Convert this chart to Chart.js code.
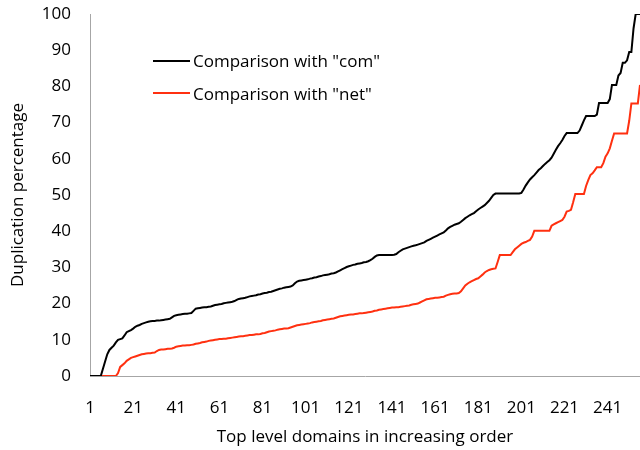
<!DOCTYPE html>
<html>
<head>
<meta charset="utf-8">
<script src="https://cdn.jsdelivr.net/npm/chart.js@4.4.0/dist/chart.umd.min.js"></script>
<style>
  html, body { margin: 0; padding: 0; background: #fff; }
  #wrap { position: relative; width: 640px; height: 450px; }
  #legend { position: absolute; left: 153px; top: 48px; font: 17px "Open Sans", sans-serif; color: #000; }
  .item { position: relative; height: 32.6px; line-height: 25px; padding-left: 40px; white-space: nowrap; }
  .swatch { position: absolute; left: 0; top: 11.5px; width: 37px; height: 2px; }
</style>
</head>
<body>
<div id="wrap">
  <canvas id="chart" width="640" height="450"></canvas>
  <div id="legend">
    <div class="item"><span class="swatch" style="background:#000"></span>Comparison with "com"</div>
    <div class="item"><span class="swatch" style="background:#ff3010"></span>Comparison with "net"</div>
  </div>
</div>
<script>
// Tick labels shown under the x axis
const tickLabels = ['1', '21', '41', '61', '81', '101', '121', '141', '161', '181', '201', '221', '241'];
const yTicks = [0, 10, 20, 30, 40, 50, 60, 70, 80, 90, 100];

// Duplication percentage vs "com", one value per top level domain (sorted)
const comValues = [
  0, 0, 0, 0, 0, 0, 2, 4, 6, 7.2,
  7.8, 8.4, 9.3, 10.0, 10.2, 10.4, 11.2, 12.1, 12.4, 12.7,
  13.1, 13.6, 13.9, 14.1, 14.4, 14.6, 14.8, 15.0, 15.1, 15.2,
  15.2, 15.3, 15.3, 15.4, 15.5, 15.6, 15.7, 15.8, 16.2, 16.6,
  16.8, 16.9, 17.0, 17.1, 17.2, 17.2, 17.3, 17.4, 18.0, 18.6,
  18.7, 18.8, 18.9, 19.0, 19.0, 19.1, 19.2, 19.4, 19.6, 19.7,
  19.8, 19.9, 20.1, 20.2, 20.3, 20.4, 20.5, 20.7, 21.0, 21.3,
  21.4, 21.5, 21.6, 21.8, 22.0, 22.1, 22.2, 22.3, 22.5, 22.6,
  22.8, 22.9, 23.0, 23.2, 23.3, 23.5, 23.7, 23.9, 24.1, 24.2,
  24.4, 24.5, 24.6, 24.7, 25.0, 25.6, 26.1, 26.3, 26.4, 26.5,
  26.6, 26.7, 26.9, 27.0, 27.2, 27.3, 27.5, 27.6, 27.8, 27.9,
  28.0, 28.1, 28.3, 28.4, 28.6, 28.9, 29.2, 29.5, 29.8, 30.1,
  30.3, 30.5, 30.7, 30.8, 31.0, 31.1, 31.2, 31.4, 31.5, 31.7,
  32.0, 32.4, 32.9, 33.3, 33.4, 33.4, 33.4, 33.4, 33.4, 33.4,
  33.4, 33.5, 33.7, 34.2, 34.6, 35.0, 35.2, 35.4, 35.6, 35.8,
  36.0, 36.1, 36.3, 36.5, 36.7, 36.9, 37.3, 37.6, 37.9, 38.2,
  38.5, 38.8, 39.1, 39.4, 39.7, 40.2, 40.8, 41.2, 41.5, 41.8,
  42.0, 42.2, 42.6, 43.1, 43.6, 44.0, 44.4, 44.7, 45.0, 45.5,
  46.0, 46.4, 46.8, 47.2, 47.8, 48.4, 49.2, 50.0, 50.4, 50.4,
  50.4, 50.4, 50.4, 50.4, 50.4, 50.4, 50.4, 50.4, 50.4, 50.4,
  50.6, 51.5, 52.6, 53.5, 54.3, 54.9, 55.5, 56.2, 56.9, 57.4,
  58.0, 58.6, 59.1, 59.6, 60.3, 61.4, 62.5, 63.5, 64.3, 65.2,
  66.3, 67.1, 67.1, 67.1, 67.1, 67.1, 67.1, 67.8, 69.2, 70.6,
  71.8, 71.8, 71.8, 71.8, 71.8, 72.2, 75.4, 75.4, 75.4, 75.4,
  75.4, 76.5, 80.4, 80.4, 80.4, 83.0, 83.7, 86.5, 86.5, 87.2,
  89.5, 89.5, 96, 100, 100, 100
];

// Duplication percentage vs "net"
const netValues = [
  0, 0, 0, 0, 0, 0, 0, 0, 0, 0,
  0, 0, 0, 0.8, 2.5, 3.0, 3.5, 4.2, 4.6, 5.0,
  5.2, 5.4, 5.6, 5.8, 6.0, 6.1, 6.2, 6.3, 6.3, 6.4,
  6.5, 6.9, 7.2, 7.3, 7.3, 7.4, 7.5, 7.5, 7.6, 7.8,
  8.1, 8.2, 8.3, 8.4, 8.4, 8.5, 8.5, 8.6, 8.7, 8.9,
  9.0, 9.1, 9.3, 9.4, 9.5, 9.7, 9.8, 9.9, 10.0, 10.1,
  10.2, 10.2, 10.3, 10.3, 10.4, 10.5, 10.6, 10.7, 10.8, 10.9,
  11.0, 11.0, 11.1, 11.2, 11.3, 11.3, 11.4, 11.5, 11.5, 11.6,
  11.8, 11.9, 12.1, 12.3, 12.4, 12.5, 12.6, 12.8, 12.9, 13.0,
  13.1, 13.1, 13.2, 13.4, 13.6, 13.8, 14.0, 14.1, 14.2, 14.3,
  14.4, 14.5, 14.6, 14.8, 14.9, 15.0, 15.1, 15.2, 15.4, 15.5,
  15.6, 15.7, 15.8, 15.9, 16.1, 16.3, 16.5, 16.6, 16.7, 16.8,
  16.9, 17.0, 17.0, 17.1, 17.2, 17.3, 17.3, 17.4, 17.5, 17.6,
  17.7, 17.8, 18.0, 18.1, 18.3, 18.4, 18.5, 18.6, 18.7, 18.8,
  18.9, 18.9, 19.0, 19.0, 19.1, 19.2, 19.3, 19.4, 19.5, 19.7,
  19.8, 19.9, 20.0, 20.3, 20.6, 20.9, 21.2, 21.3, 21.4, 21.5,
  21.6, 21.6, 21.7, 21.8, 21.9, 22.2, 22.4, 22.6, 22.7, 22.8,
  22.8, 22.9, 23.4, 24.2, 25.0, 25.5, 25.9, 26.2, 26.5, 26.8,
  27.0, 27.5, 28.0, 28.6, 29.0, 29.3, 29.5, 29.6, 29.7, 31.5,
  33.4, 33.4, 33.4, 33.4, 33.4, 33.4, 34.2, 35.0, 35.5, 36.0,
  36.5, 36.8, 37.0, 37.3, 37.6, 38.5, 40.1, 40.1, 40.1, 40.1,
  40.1, 40.1, 40.1, 40.1, 41.5, 41.9, 42.2, 42.5, 42.8, 43.1,
  44.0, 45.4, 45.6, 45.9, 48.0, 50.3, 50.3, 50.3, 50.3, 50.3,
  52.5, 54.1, 55.5, 56.0, 56.8, 57.7, 57.7, 57.7, 58.8, 60.6,
  61.5, 62.9, 65.0, 67.0, 67.0, 67.0, 67.0, 67.0, 67.0, 67.0,
  70.5, 75.3, 75.3, 75.3, 75.3, 80.4
];

// domain rank 1..N
const domains = comValues.map((v, i) => String(i + 1));

const font = { family: '"Open Sans", sans-serif', size: 17 };
const axisGray = '#a6a6a6';

new Chart(document.getElementById('chart'), {
  type: 'line',
  data: {
    labels: domains,
    datasets: [
      { label: 'Comparison with "com"', data: comValues, borderColor: '#000', borderWidth: 2, pointRadius: 0, tension: 0 },
      { label: 'Comparison with "net"', data: netValues, borderColor: '#ff3010', borderWidth: 2, pointRadius: 0, tension: 0 }
    ]
  },
  options: {
    responsive: false,
    animation: false,
    layout: { padding: { top: 14, right: 0, bottom: 0, left: 0 } },
    plugins: { legend: { display: false }, tooltip: { enabled: false } },
    scales: {
      x: {
        grid: { drawOnChartArea: false, drawTicks: false },
        border: { color: axisGray, width: 1 },
        ticks: {
          autoSkip: false, maxRotation: 0, padding: 22, color: '#000', font,
          callback: function(val) {
            const lab = this.getLabelForValue(val);
            return tickLabels.includes(lab) ? lab : null;
          }
        },
        title: { display: true, text: 'Top level domains in increasing order', color: '#000', font, padding: { top: 0, bottom: 3 } },
        afterFit: s => { s.height = 74; s.paddingLeft = 0; s.paddingRight = 0; }
      },
      y: {
        min: 0, max: 100,
        grid: { drawOnChartArea: false, drawTicks: false },
        border: { color: axisGray, width: 1 },
        afterBuildTicks: s => { s.ticks = yTicks.map(v => ({ value: v })); },
        ticks: { padding: 19, color: '#000', font },
        title: { display: true, text: 'Duplication percentage', color: '#000', font, padding: { top: 8, bottom: 0 } },
        afterFit: s => { s.width = 90; s.paddingTop = 0; s.paddingBottom = 0; }
      }
    }
  }
});
</script>
</body>
</html>
